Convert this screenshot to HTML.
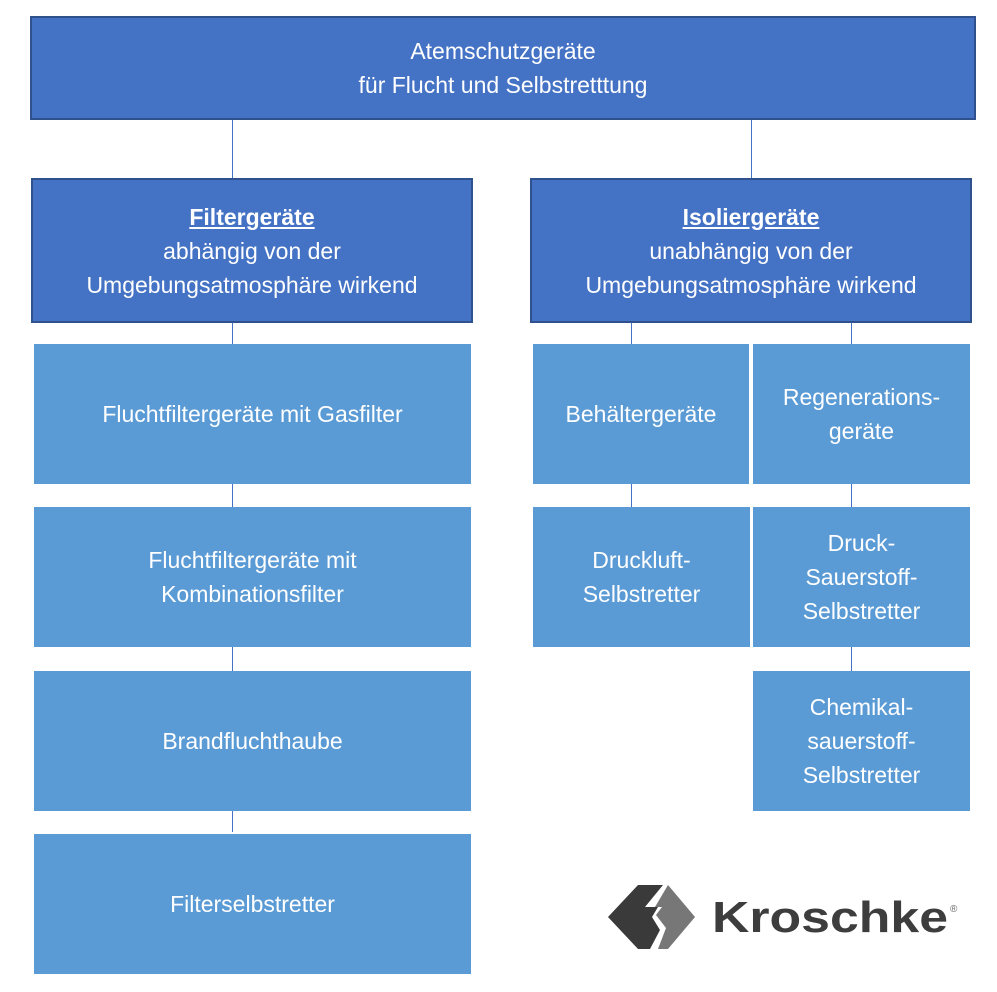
<!DOCTYPE html>
<html><head><meta charset="utf-8"><style>
body{margin:0;width:997px;height:992px;background:#fff;position:relative;font-family:"Liberation Sans",sans-serif;overflow:hidden}
.b{position:absolute;display:flex;align-items:center;justify-content:center;text-align:center;color:#fff;font-size:23px;line-height:34px;box-sizing:border-box}
.d{background:#4472C4;border:2px solid #2F528F}
.l{background:#5B9BD5}
.v{position:absolute;width:1px;background:#4472C4}
u{font-weight:bold;text-decoration:underline}
</style></head><body>
<div class="v" style="left:232px;top:119px;height:59px"></div>
<div class="v" style="left:751px;top:119px;height:59px"></div>
<div class="v" style="left:232px;top:322px;height:510px"></div>
<div class="v" style="left:631px;top:322px;height:185px"></div>
<div class="v" style="left:851px;top:322px;height:349px"></div>
<div class="b d" style="left:30px;top:16px;width:946px;height:104px">Atemschutzgeräte<br>für Flucht und Selbstretttung</div>
<div class="b d" style="left:31px;top:178px;width:442px;height:145px"><div><u>Filtergeräte</u><br>abhängig von der<br>Umgebungsatmosphäre wirkend</div></div>
<div class="b d" style="left:530px;top:178px;width:442px;height:145px"><div><u>Isoliergeräte</u><br>unabhängig von der<br>Umgebungsatmosphäre wirkend</div></div>
<div class="b l" style="left:34px;top:344px;width:437px;height:140px">Fluchtfiltergeräte mit Gasfilter</div>
<div class="b l" style="left:34px;top:507px;width:437px;height:140px">Fluchtfiltergeräte mit<br>Kombinationsfilter</div>
<div class="b l" style="left:34px;top:671px;width:437px;height:140px">Brandfluchthaube</div>
<div class="b l" style="left:34px;top:834px;width:437px;height:140px">Filterselbstretter</div>
<div class="b l" style="left:533px;top:344px;width:216px;height:140px">Behältergeräte</div>
<div class="b l" style="left:753px;top:344px;width:217px;height:140px">Regenerations-<br>geräte</div>
<div class="b l" style="left:533px;top:507px;width:217px;height:140px">Druckluft-<br>Selbstretter</div>
<div class="b l" style="left:753px;top:507px;width:217px;height:140px">Druck-<br>Sauerstoff-<br>Selbstretter</div>
<div class="b l" style="left:753px;top:671px;width:217px;height:140px">Chemikal-<br>sauerstoff-<br>Selbstretter</div>
<svg style="position:absolute;left:600px;top:870px" width="380" height="90">
<polygon points="38,15 63,15 45,37 58,37 52,47 60,60 50,79 38,79 8,47" fill="#3a3a3a"/>
<polygon points="68,15 95,47 68,79 58,79 66,58 56,45 62,37 55,37" fill="#777"/>
<text x="112" y="62" font-family="Liberation Sans,sans-serif" font-weight="bold" font-size="44" fill="#3d3d3d" textLength="236" lengthAdjust="spacingAndGlyphs">Kroschke</text>
<text x="350" y="42" font-family="Liberation Sans,sans-serif" font-size="10" fill="#666">®</text>
</svg>
</body></html>
